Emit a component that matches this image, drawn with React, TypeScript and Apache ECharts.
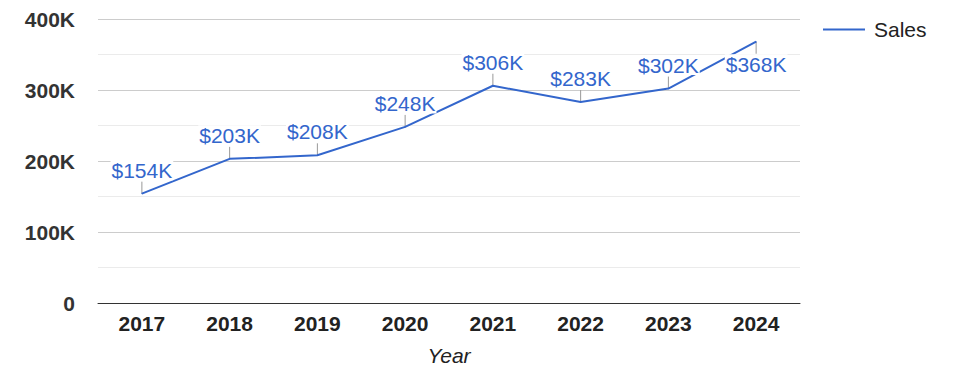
import React, { useEffect, useRef } from "react";
import * as echarts from "echarts";

const years = ["2017", "2018", "2019", "2020", "2021", "2022", "2023", "2024"];
const sales = [154000, 203000, 208000, 248000, 306000, 283000, 302000, 368000];
const yTicks = [0, 100000, 200000, 300000, 400000];

const BLUE = "#3366cc";
const FONT = "Arial, 'Liberation Sans', sans-serif";

const fmtMoney = (v: number) => "$" + Math.round(v / 1000) + "K";
const fmtTick = (v: number) => (v === 0 ? "0" : v / 1000 + "K");
const below = (v: number) => v > 350000;

export default function App() {
  const ref = useRef<HTMLDivElement>(null);
  useEffect(() => {
    if (!ref.current) return;
    const chart = echarts.init(ref.current, null, { renderer: "svg" });
    chart.setOption({
      animation: false,
      textStyle: { fontFamily: FONT },
      grid: { left: 98, right: 175, top: 19, bottom: 75, containLabel: false },
      legend: {
        left: 818,
        top: 14,
        itemWidth: 42,
        itemHeight: 2,
        icon: "rect",
        data: [{ name: "Sales", icon: "rect" }],
        textStyle: { fontSize: 21, color: "#222", fontFamily: FONT, padding: [0, 0, 0, 4] },
      },
      xAxis: {
        type: "category",
        data: years,
        boundaryGap: true,
        name: "Year",
        nameLocation: "middle",
        nameGap: 42,
        nameTextStyle: { fontSize: 21, fontStyle: "italic", color: "#222", fontFamily: FONT },
        axisLine: { lineStyle: { color: "#333", width: 1 } },
        axisTick: { show: false },
        axisLabel: { fontSize: 21, fontWeight: "bold", color: "#222", margin: 10, fontFamily: FONT },
      },
      yAxis: {
        type: "value",
        min: yTicks[0],
        max: yTicks[yTicks.length - 1],
        interval: 100000,
        axisLine: { show: false },
        axisTick: { show: false },
        axisLabel: {
          fontSize: 21,
          fontWeight: "bold",
          color: "#333",
          margin: 23,
          fontFamily: FONT,
          formatter: (v: number) => fmtTick(v),
        },
        splitLine: { lineStyle: { color: "#cccccc", width: 1 } },
        minorTick: { show: false, splitNumber: 2 },
        minorSplitLine: { show: true, lineStyle: { color: "#ebebeb", width: 1 } },
      },
      series: [
        {
          type: "custom",
          name: "stems",
          z: 1,
          silent: true,
          data: sales.map((v, i) => [i, v]),
          renderItem: (params: any, api: any) => {
            const v = api.value(1);
            const p = api.coord([api.value(0), v]);
            const dir = below(v) ? -1 : 1;
            return {
              type: "line",
              shape: { x1: p[0], y1: p[1], x2: p[0], y2: p[1] - 12 * dir },
              style: { stroke: "#999999", lineWidth: 1 },
            };
          },
        },
        {
          type: "line",
          name: "Sales",
          z: 2,
          data: sales.map((v) =>
            below(v)
              ? { value: v, label: { position: "bottom", distance: 12 } }
              : { value: v }
          ),
          symbol: "circle",
          symbolSize: 1,
          showSymbol: true,
          lineStyle: { color: BLUE, width: 2 },
          itemStyle: { color: BLUE },
          label: {
            show: true,
            position: "top",
            distance: 13,
            fontSize: 21,
            color: BLUE,
            fontFamily: FONT,
            backgroundColor: "#ffffff",
            lineHeight: 20,
            padding: [0, 1],
            formatter: (p: any) => fmtMoney(p.value),
          },
        },
      ],
    });
    return () => chart.dispose();
  }, []);
  return <div ref={ref} style={{ width: 975, height: 378, position: "absolute", left: 0, top: 0 }} />;
}
